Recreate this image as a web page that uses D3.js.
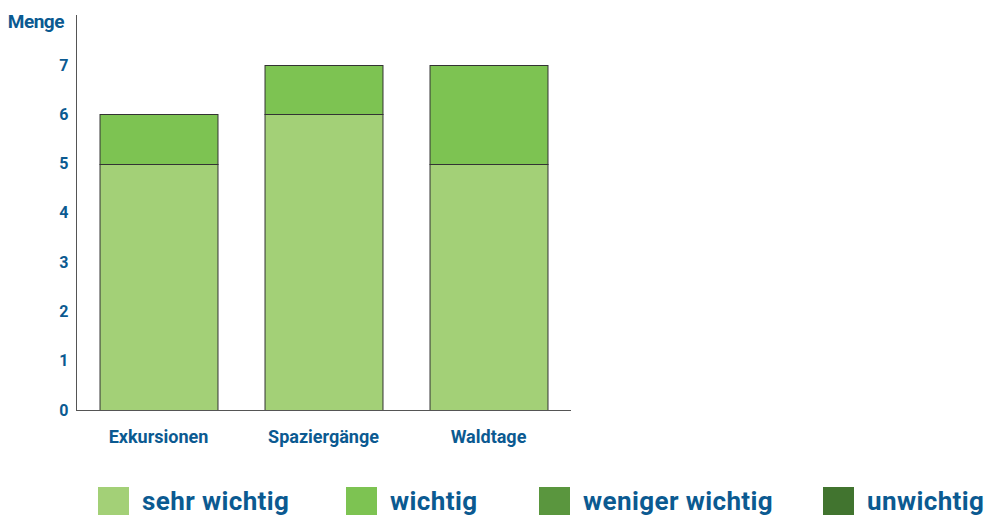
<!DOCTYPE html>
<html>
<head>
<meta charset="utf-8">
<script src="https://cdn.jsdelivr.net/npm/d3@7"></script>
<style>
  body { margin: 0; background: #fff; }
  text { font-family: Roboto, "DejaVu Sans", sans-serif; font-weight: bold; fill: #0b5a91; }
</style>
</head>
<body>
<div id="chart"></div>
<script>
var width = 985;
var height = 515;

var categories = ["Exkursionen", "Spaziergänge", "Waldtage"];
var seriesNames = ["sehr wichtig", "wichtig", "weniger wichtig", "unwichtig"];
var sehrWichtig = [5, 6, 5];
var wichtig = [1, 1, 2];
var wenigerWichtig = [0, 0, 0];
var unwichtig = [0, 0, 0];
var yTicks = [0, 1, 2, 3, 4, 5, 6, 7];

var seriesColors = ["#a3d077", "#7dc352", "#5a963e", "#41742f"];

var rows = categories.map(function (c, i) {
  return {
    cat: c,
    "sehr wichtig": sehrWichtig[i],
    "wichtig": wichtig[i],
    "weniger wichtig": wenigerWichtig[i],
    "unwichtig": unwichtig[i]
  };
});

var svg = d3.select("#chart").append("svg")
  .attr("width", width)
  .attr("height", height);

var xScale = d3.scaleBand().domain(categories).range([76, 571])
  .paddingInner(0.285).paddingOuter(0.1425);
var yScale = d3.scaleLinear().domain([0, 7]).range([410, 65]);
var color = d3.scaleOrdinal().domain(seriesNames).range(seriesColors);

var stacked = d3.stack().keys(seriesNames)(rows);

// bars
svg.selectAll("g.layer")
  .data(stacked)
  .enter()
  .append("g")
  .attr("class", "layer")
  .attr("fill", function (d) { return color(d.key); })
  .selectAll("rect")
  .data(function (d) { return d.filter(function (p) { return p[1] > p[0]; }); })
  .enter()
  .append("rect")
  .attr("x", function (d) { return xScale(d.data.cat) + 0.5; })
  .attr("y", function (d) { return Math.round(yScale(d[1])) + 0.5; })
  .attr("width", xScale.bandwidth())
  .attr("height", function (d) { return Math.round(yScale(d[0])) - Math.round(yScale(d[1])); })
  .attr("stroke", "#333")
  .attr("stroke-width", 1);

// y axis
var yAxis = svg.append("g")
  .attr("transform", "translate(76.5,0)")
  .call(d3.axisLeft(yScale).tickValues(yTicks).tickSize(0).tickPadding(8).tickFormat(d3.format("d")));
yAxis.select(".domain").remove();
yAxis.selectAll("text")
  .attr("font-size", 16)
  .attr("fill", "#0b5a91")
  .style("font-family", "Roboto, sans-serif");
yAxis.append("line")
  .attr("x1", 0).attr("x2", 0)
  .attr("y1", 15).attr("y2", 410)
  .attr("stroke", "#555");

// x axis
var xAxis = svg.append("g")
  .attr("transform", "translate(0,410.5)")
  .call(d3.axisBottom(xScale).tickSize(0).tickPadding(20));
xAxis.select(".domain").remove();
xAxis.selectAll("text")
  .attr("font-size", 18)
  .attr("fill", "#0b5a91")
  .style("font-family", "Roboto, sans-serif");
xAxis.append("line")
  .attr("x1", 76).attr("x2", 571)
  .attr("y1", 0).attr("y2", 0)
  .attr("stroke", "#555");

// y label
svg.append("text")
  .attr("x", 64)
  .attr("y", 28)
  .attr("text-anchor", "end")
  .attr("font-size", 19)
  .attr("letter-spacing", "-0.5")
  .text("Menge");

// legend
var legendX = [98, 346, 539, 823];
var legend = svg.selectAll("g.legend")
  .data(seriesNames)
  .enter()
  .append("g")
  .attr("class", "legend")
  .attr("transform", function (d, i) { return "translate(" + legendX[i] + ",487)"; });
legend.append("rect")
  .attr("width", 31)
  .attr("height", 30)
  .attr("fill", function (d) { return color(d); });
legend.append("text")
  .attr("x", 44)
  .attr("y", 23)
  .attr("font-size", 26)
  .attr("letter-spacing", "0.4")
  .text(function (d) { return d; });
</script>
</body>
</html>
